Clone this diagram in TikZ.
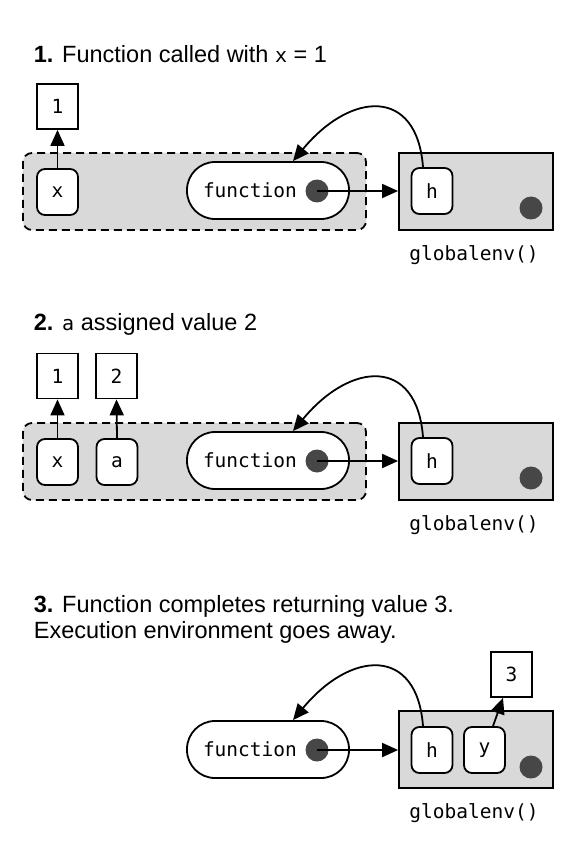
\documentclass[tikz,border=0pt]{standalone}
\usepackage{fontspec}
\setmainfont{Liberation Sans}
\newfontfamily\monof{DejaVu Sans Mono}
\usetikzlibrary{arrows.meta,calc}
\definecolor{envgray}{HTML}{D9D9D9}
\definecolor{dotgray}{HTML}{474747}
\begin{document}
\begin{tikzpicture}[x=1pt,y=-1pt,
  line width=1.8pt,
  valbox/.style={draw, fill=white, minimum width=41pt, minimum height=45pt, inner sep=0pt,
    font=\monof\fontsize{19.5}{23}\selectfont},
  varbox/.style={valbox, rounded corners=8pt, minimum height=46pt},
  pill/.style={draw, fill=white, rounded corners=28pt, minimum height=57pt, text width=130pt,
    inner xsep=16pt, inner ysep=0pt, align=left, font=\monof\fontsize{19.5}{23}\selectfont},
  dotc/.style={circle, fill=dotgray, minimum size=23pt, inner sep=0pt},
  genvbox/.style={draw, fill=envgray, minimum width=154pt, minimum height=77pt, inner sep=0pt},
  exenvbox/.style={draw, fill=envgray, rounded corners=9pt, dash pattern=on 8pt off 5pt,
    minimum width=343pt, minimum height=77pt, inner sep=0pt},
  glabel/.style={font=\monof\fontsize{19.5}{23}\selectfont},
  title/.style={anchor=base west, inner sep=0pt, font=\fontsize{23.5}{28}\selectfont},
  arr/.style={-{Triangle[length=16pt,width=14pt]}, line width=1.8pt},
]
\fill[white] (0,0) rectangle (561,850);
\useasboundingbox (0,0) rectangle (561,850);

% ---------- Section 1 ----------
\node[title] (t1) at (33,63) {\textbf{1.} Function called with {\monof\fontsize{20}{24}\selectfont x} = 1};
\node[exenvbox] (ex1) at (194.5,191.5) {};
\node[valbox] (one1) at (57.5,106.5) {1};
\node[varbox] (x1) at (57.5,192) {x};
\node[pill] (fn1) at (268,190.5) {function};
\node[dotc] (fd1) at (317,191) {};
\node[genvbox] (ge1) at (476,191.5) {};
\node[varbox] (h1) at (432,191) {h};
\node[dotc] (gd1) at (531,208) {};
\node[glabel] (gl1) at (474,255) {globalenv()};
\draw[arr] (x1.north) -- (one1.south);
\draw[arr] (fd1.center) -- (fd1.center -| ge1.west);
\draw[arr] ([xshift=-9pt]h1.north) .. controls +(-6,-80) and +(58,-70) .. ([xshift=25pt]fn1.north);

% ---------- Section 2 ----------
\node[title] (t2) at (33,330) {\textbf{2.} {\monof\fontsize{20}{24}\selectfont a} assigned value 2};
\node[exenvbox] (ex2) at (194.5,461.5) {};
\node[valbox] (one2) at (57.5,376) {1};
\node[valbox] (two2) at (116.5,376) {2};
\node[varbox] (x2) at (57.5,462) {x};
\node[varbox] (a2) at (117,462) {a};
\node[pill] (fn2) at (268,460.5) {function};
\node[dotc] (fd2) at (317,461) {};
\node[genvbox] (ge2) at (476,461.5) {};
\node[varbox] (h2) at (432,461) {h};
\node[dotc] (gd2) at (531,478) {};
\node[glabel] (gl2) at (474,525) {globalenv()};
\draw[arr] (x2.north) -- (one2.south);
\draw[arr] (a2.north) -- (two2.south);
\draw[arr] (fd2.center) -- (fd2.center -| ge2.west);
\draw[arr] ([xshift=-9pt]h2.north) .. controls +(-6,-80) and +(58,-70) .. ([xshift=25pt]fn2.north);

% ---------- Section 3 ----------
\node[title] (t3) at (33,612) {\textbf{3.} Function completes returning value 3.};
\node[title] (t3b) at (33,638) {Execution environment goes away.};
\node[pill] (fn3) at (268,749.5) {function};
\node[dotc] (fd3) at (317,750) {};
\node[genvbox] (ge3) at (476,749.5) {};
\node[varbox] (h3) at (432,750) {h};
\node[varbox] (y3) at (484.5,750) {y};
\node[valbox] (three3) at (511.5,674.5) {3};
\node[dotc] (gd3) at (531,767) {};
\node[glabel] (gl3) at (474,813) {globalenv()};
\draw[arr] ([xshift=8.5pt]y3.north) -- ([xshift=-8.5pt]three3.south);
\draw[arr] (fd3.center) -- (fd3.center -| ge3.west);
\draw[arr] ([xshift=-9pt]h3.north) .. controls +(-6,-80) and +(58,-70) .. ([xshift=25pt]fn3.north);
\end{tikzpicture}
\end{document}
